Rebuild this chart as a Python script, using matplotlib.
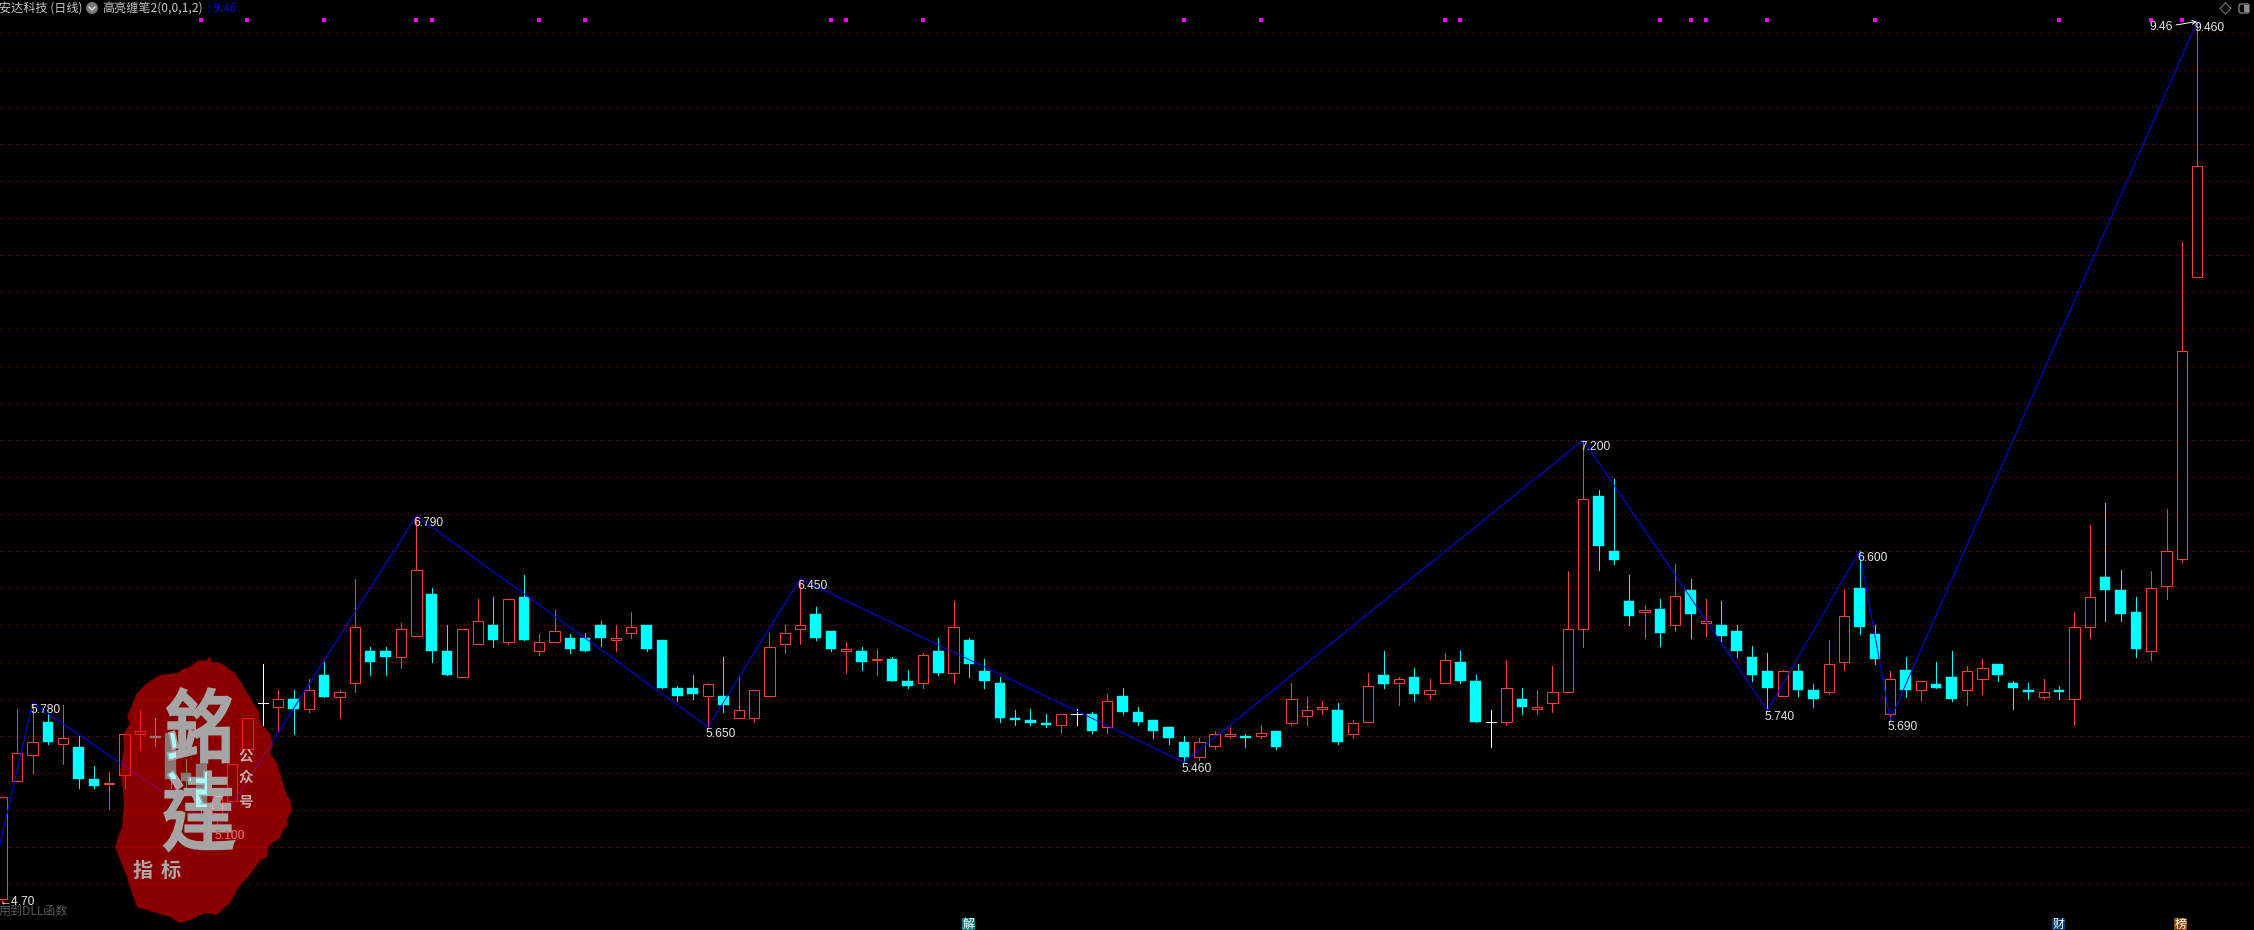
# -*- coding: utf-8 -*-
#K-line chart with the zigzag line and the red seal logo
import matplotlib
matplotlib.use("Agg")
import matplotlib.pyplot as plt
from matplotlib.font_manager import FontProperties
from matplotlib.patches import PathPatch, Polygon, Circle, Rectangle, FancyBboxPatch
from matplotlib.path import Path
from matplotlib.textpath import TextPath
from matplotlib.transforms import Affine2D

plt.rcParams['font.family'] = ['Liberation Sans', 'Noto Sans CJK SC', 'DejaVu Sans']

#Daily prices
opens = [4.72,5.36,5.50,5.68,5.56,5.54,5.37,5.34,5.39,5.61,
         5.60,5.62,5.40,5.45,5.18,5.25,5.53,5.78,5.76,5.80,
         5.75,5.93,5.81,5.89,6.06,6.06,6.03,6.14,6.37,6.06,
         5.92,6.10,6.20,6.11,6.35,6.06,6.11,6.13,6.13,6.20,
         6.12,6.16,6.20,6.12,5.86,5.86,5.82,5.82,5.70,5.70,
         5.82,6.10,6.18,6.26,6.17,6.06,6.06,6.01,6.02,5.90,
         5.89,6.06,5.94,6.12,5.95,5.89,5.70,5.69,5.67,5.66,
         5.72,5.72,5.65,5.82,5.73,5.69,5.65,5.57,5.49,5.55,
         5.60,5.60,5.60,5.63,5.67,5.71,5.75,5.74,5.61,5.68,
         5.93,5.89,5.92,5.83,5.89,6.00,5.90,5.68,5.68,5.80,
         5.75,5.78,5.84,6.18,6.90,6.60,6.33,6.27,6.29,6.20,
         6.39,6.21,6.20,6.17,6.03,5.95,5.82,5.95,5.85,5.84,
         6.00,6.40,6.15,5.72,5.96,5.85,5.88,5.92,5.85,5.91,
         5.99,5.89,5.85,5.81,5.85,5.80,6.19,6.46,6.39,6.27,
         6.06,6.41,6.56,8.08]
highs = [5.27,5.75,5.78,5.72,5.77,5.60,5.44,5.41,5.61,5.74,
         5.70,5.62,5.48,5.45,5.31,5.45,5.70,5.99,5.85,5.85,
         5.91,6.00,5.85,6.45,6.08,6.08,6.21,6.79,6.40,6.20,
         6.18,6.34,6.35,6.34,6.47,6.15,6.28,6.15,6.16,6.22,
         6.20,6.27,6.20,6.12,5.87,5.93,5.89,6.03,5.92,5.85,
         6.16,6.20,6.45,6.30,6.17,6.11,6.08,6.07,6.03,5.96,
         6.05,6.13,6.33,6.13,6.02,5.92,5.74,5.75,5.72,5.72,
         5.75,5.73,5.83,5.86,5.76,5.69,5.65,5.60,5.59,5.63,
         5.65,5.61,5.66,5.63,5.89,5.81,5.79,5.78,5.69,5.94,
         6.06,5.92,5.97,5.91,6.05,6.06,5.93,5.74,6.01,5.86,
         5.85,5.98,6.49,7.20,6.93,6.99,6.47,6.31,6.34,6.53,
         6.45,6.34,6.33,6.20,6.09,6.05,5.96,5.99,5.88,6.12,
         6.39,6.60,6.20,5.95,6.03,5.90,6.00,6.06,5.98,6.02,
         5.99,5.90,5.89,5.91,5.87,6.27,6.74,6.86,6.50,6.35,
         6.49,6.83,8.27,9.46]
lows = [4.70,5.36,5.40,5.56,5.45,5.32,5.32,5.21,5.32,5.53,
        5.55,5.32,5.31,5.16,5.10,5.25,5.53,5.66,5.63,5.61,
        5.73,5.81,5.70,5.84,5.93,5.93,5.97,6.14,6.00,5.93,
        5.92,6.10,6.08,6.10,6.12,6.04,6.11,6.05,6.06,6.09,
        6.06,6.13,6.06,5.86,5.79,5.80,5.65,5.73,5.70,5.68,
        5.82,6.05,6.10,6.12,6.06,5.94,5.96,5.93,5.90,5.86,
        5.86,5.93,5.89,5.92,5.86,5.68,5.66,5.66,5.65,5.62,
        5.66,5.62,5.62,5.72,5.66,5.59,5.56,5.46,5.47,5.53,
        5.59,5.54,5.59,5.53,5.66,5.66,5.72,5.56,5.59,5.68,
        5.86,5.77,5.79,5.80,5.89,5.89,5.68,5.54,5.66,5.72,
        5.72,5.73,5.84,6.08,6.50,6.53,6.20,6.13,6.09,6.17,
        6.13,6.14,6.11,6.03,5.90,5.74,5.82,5.82,5.76,5.83,
        5.96,6.15,5.99,5.69,5.81,5.79,5.86,5.79,5.77,5.83,
        5.90,5.75,5.80,5.80,5.80,5.66,6.13,6.22,6.22,6.03,
        6.01,6.34,6.54,8.08]
closes = [5.27,5.51,5.57,5.57,5.59,5.37,5.33,5.35,5.61,5.63,
          5.59,5.37,5.36,5.22,5.28,5.45,5.70,5.78,5.80,5.75,
          5.85,5.81,5.84,6.19,6.00,6.03,6.18,6.50,6.06,5.93,
          6.18,6.22,6.12,6.34,6.12,6.11,6.17,6.07,6.06,6.13,
          6.13,6.19,6.07,5.86,5.82,5.83,5.88,5.77,5.74,5.85,
          6.08,6.16,6.20,6.13,6.07,6.07,6.00,6.02,5.90,5.87,
          6.04,5.94,6.19,5.99,5.90,5.70,5.69,5.67,5.66,5.72,
          5.72,5.63,5.79,5.73,5.68,5.63,5.59,5.49,5.57,5.61,
          5.61,5.59,5.62,5.54,5.80,5.74,5.76,5.57,5.67,5.87,
          5.88,5.91,5.83,5.85,6.01,5.90,5.68,5.68,5.86,5.76,
          5.76,5.84,6.18,6.88,6.63,6.55,6.25,6.28,6.16,6.36,
          6.26,6.22,6.14,6.06,5.93,5.86,5.95,5.85,5.80,5.99,
          6.25,6.19,6.02,5.91,5.85,5.90,5.86,5.80,5.95,5.97,
          5.93,5.86,5.84,5.84,5.84,6.19,6.35,6.39,6.26,6.07,
          6.40,6.60,7.68,8.68]

#Zigzag turning points (day number, price)
pivot_days = [-1, 2, 14, 27, 46, 52, 77, 103, 115, 121, 123, 143]
pivot_prices = [4.70, 5.78, 5.10, 6.79, 5.65, 6.45, 5.46, 7.20, 5.74, 6.60, 5.69, 9.46]

#Days with a magenta mark along the top
mark_days = [13, 16, 21, 27, 28, 35, 38, 54, 55, 60, 77, 82, 94, 95, 108, 110, 111, 115, 122, 134, 140, 142]

#Horizontal levels of the dotted grid
grid_levels = [4.8, 5.0, 5.2, 5.4, 5.6, 5.8, 6.0, 6.2, 6.4, 6.6, 6.8, 7.0,
               7.2, 7.4, 7.6, 7.8, 8.0, 8.2, 8.4, 8.6, 8.8, 9.0, 9.2, 9.4]

#Outline of the red seal, in picture pixels
logo_x = [210,212,216,220,224,227,235,238,242,247,250,253,260,259,262,267,270,273,270,
          277,279,282,285,287,290,292,287,288,283,280,274,268,267,261,257,252,248,243,238,
          230,224,217,208,200,190,180,170,157,147,137,132,127,121,115,119,122,124,123,120,
          122,124,123,126,130,127,132,137,147,152,160,177,183,190,195,200,206]
logo_y = [656,663,662,663,665,668,673,678,683,693,697,703,713,718,725,730,733,745,753,
          763,770,780,790,795,800,810,820,825,830,838,842,847,857,860,865,872,877,882,888,
          903,908,915,913,915,920,923,917,913,910,907,893,877,862,847,835,827,803,790,773,
          760,747,735,730,723,717,705,693,683,680,675,673,669,667,663,660,661]

red = '#ff3c3c'
cyan = '#00ffff'
grey = '#a5a5a5'
body_w = 0.68

fig = plt.figure(figsize=(22.54, 9.3), dpi=100, facecolor='black')
ax = fig.add_axes([0, 0, 1, 1], facecolor='black')
ax.set_xlim(-1.8 / 15.353, (2254 - 1.8) / 15.353)
ax.set_ylim(4.8 - 45.5 / 185.2, 9.4 + 32.5 / 185.2)
ax.axis('off')

#Transform for things that sit at fixed picture pixels
px = Affine2D().scale(1, -1).translate(0, 930)

for level in grid_levels:
    ax.plot([-0.1, 146.4], [level, level], color='#8b0000', lw=0.72,
            linestyle=(0, (1, 3.1)), antialiased=False, zorder=1)

#Candles
for day in range(len(opens)):
    o, h, l, c = opens[day], highs[day], lows[day], closes[day]
    if c > o:
        ax.vlines(day, l, h, color=red, lw=0.72, antialiased=False, zorder=2)
        ax.bar(day, c - o, body_w, bottom=o, facecolor='black', edgecolor=red,
               linewidth=0.72, zorder=3)
    elif c < o:
        ax.vlines(day, l, h, color=cyan, lw=0.72, antialiased=False, zorder=2)
        ax.bar(day, o - c, body_w, bottom=c, facecolor=cyan, edgecolor=cyan,
               linewidth=0.3, zorder=3)
    else:
        ax.vlines(day, l, h, color='white', lw=0.72, antialiased=False, zorder=2)
        ax.hlines(o, day - body_w / 2, day + body_w / 2, color='white', lw=0.72,
                  antialiased=False, zorder=3)

ax.plot(pivot_days, pivot_prices, color='#0000ff', lw=0.72, zorder=4)

for day, price in zip(pivot_days[1:], pivot_prices[1:]):
    ax.annotate(f"{price:.3f}", (day, price), xytext=(-2.5, -7), textcoords='offset pixels',
                color='#e6e6e6', fontsize=8.64, va='center', ha='left', zorder=5)

ax.plot(mark_days, [9.465] * len(mark_days), 's', color='#ff00ff', ms=2.3, mew=0,
        antialiased=False, zorder=2)

#Lowest price tag and the newest price tag
ax.text(0, 902, "←4.70", color='#e6e6e6', fontsize=8.64, va='center', transform=px, zorder=5)
ax.text(2150, 26.7, "9.46", color='#e6e6e6', fontsize=8.64, va='center', transform=px, zorder=5)
ax.annotate("", xy=(2197, 21.5), xytext=(2176, 25), xycoords=px, textcoords=px,
            arrowprops=dict(arrowstyle='->', color='white', lw=0.7, mutation_scale=7, shrinkA=0, shrinkB=0),
            zorder=5)
ax.text(-1, 911.7, "用到DLL函数", color='#5a5a5a', fontsize=8.64, va='center', transform=px, zorder=5,
        family=['Noto Sans CJK SC', 'DejaVu Sans'])

#Header
cjk = ['Noto Sans CJK SC', 'DejaVu Sans']
ax.text(-1, 8, "安达科技 (日线)", color='#c8c8c8', fontsize=8.7, va='center', transform=px, family=cjk)
ax.add_patch(Circle((92, 8), 6, facecolor='#787878', edgecolor='none', transform=px))
ax.plot([89, 92, 95], [7, 10, 7], color='#e8e8e8', lw=0.9, transform=px)
ax.text(102, 8, "高亮缠笔2(0,0,1,2)", color='#c8c8c8', fontsize=8.7, va='center', transform=px, family=cjk)
ax.text(207, 8, ": 9.46", color='#0000dc', fontsize=8.7, va='center', transform=px, family=cjk)

#Icons in the top right corner and the right border
ax.plot([2225.5, 2231, 2225.5, 2220, 2225.5], [3, 8.5, 14, 8.5, 3], color='#787878', lw=0.75, transform=px)
ax.add_patch(FancyBboxPatch((2239, 4), 10, 9, boxstyle='round,pad=0,rounding_size=2', facecolor='none',
                            edgecolor='#8c8c8c', lw=0.9, transform=px))
ax.add_patch(Rectangle((2244, 5), 4.5, 7, facecolor='#8c8c8c', edgecolor='none', transform=px))
ax.plot([2253.5, 2253.5], [0, 930], color='#8b0000', lw=0.75, transform=px)

#Small badges along the bottom edge
for left, word, colour in [(962, "解", '#008080'), (2052, "财", '#003c6e'), (2174, "榜", '#8c4600')]:
    ax.add_patch(Rectangle((left, 918), 13, 12, facecolor=colour, edgecolor='none', transform=px, zorder=5))
    ax.text(left + 6.5, 924.5, word, color='white', fontsize=8.6, ha='center', va='center',
            transform=px, family=cjk, zorder=6)

#Seal: see through red over all of the chart
ax.add_patch(Polygon(list(zip(logo_x, logo_y)), closed=True, facecolor='#ff0000', alpha=0.545,
                     edgecolor='none', transform=px, zorder=10))


def glyph_patch(word, left, top, width, height):
    prop = FontProperties(family='Noto Sans CJK TC', weight='regular')
    tp = TextPath((0, 0), word, size=100, prop=prop)
    box = tp.get_extents()
    verts = tp.vertices.copy()
    verts[:, 0] = left + (verts[:, 0] - box.x0) / box.width * width
    verts[:, 1] = top + (box.y1 - verts[:, 1]) / box.height * height
    return PathPatch(Path(verts, tp.codes), facecolor=grey, edgecolor=grey, lw=2.4, transform=px, zorder=11)


for word, box in [("銘", (168, 689, 62, 73)), ("達", (165, 772, 68, 78))]:
    patch = glyph_patch(word, *box)
    ax.add_patch(patch)
    #cyan and red candles shine through the grey strokes
    for day in range(10, 15):
        o, c = opens[day], closes[day]
        if c < o:
            bars = ax.bar(day, o - c, body_w, bottom=c, facecolor='#aaffff', edgecolor='none', zorder=12)
        else:
            bars = ax.bar(day, c - o, body_w, bottom=o, facecolor='none', edgecolor='#ffaaaa',
                          linewidth=0.72, zorder=12)
        for b in bars:
            b.set_clip_path(patch)

#The low tag stays readable on top of the grey strokes
ax.annotate(f"{pivot_prices[2]:.3f}", (pivot_days[2], pivot_prices[2]), xytext=(-2.5, -7),
            textcoords='offset pixels', color='#e06060', fontsize=8.64, va='center', ha='left', zorder=13)

ax.text(143, 870, "指", color='#aaaaaa', fontsize=14.5, fontweight='bold', ha='center', va='center',
        transform=px, family=cjk, zorder=11)
ax.text(171, 870, "标", color='#aaaaaa', fontsize=14.5, fontweight='bold', ha='center', va='center',
        transform=px, family=cjk, zorder=11)
for y, word in [(756, "公"), (777, "众"), (802, "号")]:
    ax.text(245.7, y, word, color='#c8aaaa', fontsize=10.5, fontweight='bold', ha='center', va='center',
            transform=px, family=cjk, zorder=11)

fig.savefig('out.png', dpi=100, facecolor='black')
